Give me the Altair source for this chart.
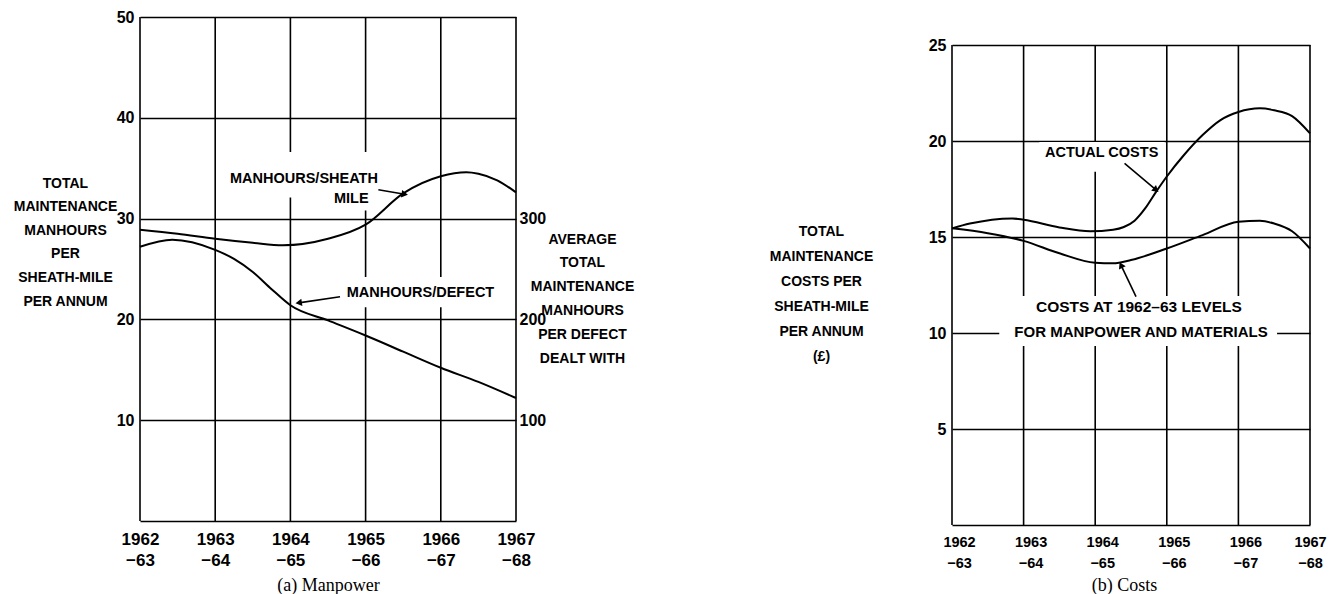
import json
import math
import altair as alt
import pandas as pd

# ---------------- data ----------------
year_idx = [0, 1, 2, 3, 4, 5]
year_top = ["1962", "1963", "1964", "1965", "1966", "1967"]
year_bot = ["−63", "−64", "−65", "−66", "−67", "−68"]

# (a) Manpower
sheath_x = [0, 0.5, 1, 1.5, 1.9, 2.5, 3, 3.5, 4, 4.34, 4.5, 4.75, 5]
sheath_v = [28.9, 28.5, 28.0, 27.6, 27.35, 28.0, 29.4, 32.5, 34.2, 34.6, 34.45, 33.8, 32.6]

defect_x = [0, 0.43, 1, 1.25, 1.5, 1.75, 2, 2.5, 3, 3.5, 4, 4.5, 5]
defect_v = [272, 279, 269, 260, 247, 230, 214, 199, 184, 168, 152, 138, 122]

# (b) Costs
actual_x = [0, 0.25, 0.84, 1, 1.5, 1.93, 2.25, 2.4, 2.55, 2.7, 2.85, 3, 3.24, 3.5, 3.75, 4, 4.3, 4.5, 4.75, 5]
actual_v = [15.45, 15.7, 15.97, 15.9, 15.5, 15.3, 15.38, 15.52, 15.85, 16.5, 17.35, 18.15, 19.27, 20.31, 21.09, 21.51, 21.7, 21.6, 21.3, 20.4]

levels_x = [0, 0.5, 1, 1.5, 2, 2.25, 2.5, 3, 3.5, 4, 4.3, 4.5, 4.75, 5]
levels_v = [15.45, 15.2, 14.8, 14.15, 13.66, 13.63, 13.8, 14.4, 15.1, 15.8, 15.85, 15.7, 15.3, 14.4]

left_title = ["TOTAL", "MAINTENANCE", "MANHOURS", "PER", "SHEATH-MILE", "PER ANNUM"]
right_title_a = ["AVERAGE", "TOTAL", "MAINTENANCE", "MANHOURS", "PER DEFECT", "DEALT WITH"]
left_title_b = ["TOTAL", "MAINTENANCE", "COSTS PER", "SHEATH-MILE", "PER ANNUM", "(£)"]

# annotations (data coordinates)
ann_a_text = ["MANHOURS/SHEATH", "MILE", "MANHOURS/DEFECT"]
ann_a_x = [2.18, 2.81, 3.73]
ann_a_v = [33.96, 31.91, 22.57]
ann_a_size = [14.5, 14.5, 14.5]
arrow_a = [(3.17, 32.87, 3.52, 32.41), (2.66, 22.25, 2.11, 21.64)]
boxes_a = [(1.16, 32.1, 3.19, 36.6), (2.55, 30.8, 3.07, 32.1), (2.66, 21.2, 4.84, 24.2)]

ann_b_text = ["ACTUAL COSTS", "COSTS AT 1962–63 LEVELS", "FOR MANPOWER AND MATERIALS"]
ann_b_x = [2.09, 2.61, 2.64]
ann_b_v = [19.39, 11.34, 10.04]
ann_b_size = [14.5, 15.5, 15]
arrow_b = [(2.41, 18.84, 2.85, 17.45), (2.57, 11.89, 2.36, 13.54)]
boxes_b = [(1.22, 18.4, 2.97, 19.95), (0.66, 9.32, 4.54, 11.93)]

# ---------------- layout / style ----------------
FONT = "Liberation Sans"
SERIF = "Liberation Serif"
W_L, H_L = 376, 504
W_R, H_R = 358, 508
R_TRUE_H = 480
R_TOP = 25
R_DOM = R_TOP * H_R / R_TRUE_H
GRID_W = 1.6
LINE_W = 2.0


def lab_expr():
    return ("[" + json.dumps(year_top, ensure_ascii=False) + "[datum.value], "
            + json.dumps(year_bot, ensure_ascii=False) + "[datum.value]]")


def arrows_df(arrs, W, H, dom):
    rows = []
    for (x1, v1, x2, v2) in arrs:
        dx = (x2 - x1) * W / 5.0
        dy = -(v2 - v1) * H / dom
        ang = math.degrees(math.atan2(dy, dx)) % 360
        rows.append({"x": x1, "v": v1, "x2": x2, "v2": v2, "ang": ang})
    return pd.DataFrame(rows)


def boxes_df(bxs):
    return pd.DataFrame([{"x": a, "v": b, "x2": c, "v2": d} for (a, b, c, d) in bxs])


def panel(W, H, dom, top, yvals, ytitle, tX, tY, tLH, xlabsize, xlabpad, xlablh, xoff,
          cap, capX, capY, curves, ann_df, arr, bxs, extra=None):
    xax = alt.Axis(values=year_idx, grid=False, domain=False, ticks=False,
                   labelExpr=lab_expr(), labelFontSize=xlabsize, labelFontWeight="bold",
                   labelPadding=xlabpad, labelLineHeight=xlablh,
                   labelOffset={"condition": {"test": "datum.value == 5", "value": 0}, "value": xoff},
                   labelFlush=False, labelOverlap=False,
                   labelFont=FONT, labelColor="black",
                   title=cap, titleFont=SERIF, titleFontWeight="normal", titleFontSize=18,
                   titleBaseline="middle", titleX=capX, titleY=capY, titleColor="black")
    yax = alt.Axis(values=yvals, grid=True, gridColor="black", gridWidth=GRID_W, gridOpacity=1,
                   domain=False, ticks=False, labelFlush=False,
                   labelExpr="datum.value == 0 ? '' : datum.label",
                   labelFontSize=16, labelFontWeight="bold", labelPadding=6, labelFont=FONT,
                   labelColor="black",
                   title=ytitle, titleAngle=0, titleAlign="center", titleBaseline="top",
                   titleX=tX, titleY=tY, titleLineHeight=tLH, titleFontSize=14,
                   titleFontWeight="bold", titleFont=FONT, titleColor="black")
    xscale = alt.Scale(domain=[0, 5], nice=False, zero=False)
    yscale = alt.Scale(domain=[0, dom], nice=False, zero=False)
    X = alt.X("x:Q", scale=xscale, axis=xax)
    Y = alt.Y("v:Q", scale=yscale, axis=yax)

    vr = pd.DataFrame({"x": year_idx, "v": [0] * 6, "v2": [top] * 6})
    vrules = alt.Chart(vr).mark_rule(color="black", strokeWidth=GRID_W).encode(x=X, y=Y, y2="v2:Q")
    boxes = alt.Chart(boxes_df(bxs)).mark_rect(color="white").encode(x=X, x2="x2:Q", y=Y, y2="v2:Q")
    layers = [vrules, boxes]
    for (cx, cv) in curves:
        df = pd.DataFrame({"x": cx, "v": cv})
        layers.append(alt.Chart(df).mark_line(color="black", strokeWidth=LINE_W,
                                              interpolate="monotone").encode(x=X, y=Y))
    adf = arrows_df(arr, W, H, dom)
    layers.append(alt.Chart(adf).mark_rule(color="black", strokeWidth=1.6)
                  .encode(x=X, y=Y, x2="x2:Q", y2="v2:Q"))
    layers.append(alt.Chart(adf).mark_point(shape="triangle-right", filled=True, size=55,
                                            color="black", opacity=1)
                  .encode(x=alt.X("x2:Q", scale=xscale, axis=xax),
                          y=alt.Y("v2:Q", scale=yscale, axis=yax),
                          angle=alt.Angle("ang:Q", scale=None)))
    for _, row in ann_df.iterrows():
        d = pd.DataFrame([{"x": row["x"], "v": row["v"], "label": row["label"]}])
        layers.append(alt.Chart(d).mark_text(font=FONT, fontWeight="bold", fontSize=row["size"],
                                             color="black", align="center", baseline="middle")
                      .encode(x=X, y=Y, text="label:N"))
    inner = alt.layer(*layers).properties(width=W, height=H)
    if extra is not None:
        ex = extra(alt.X("x:Q", scale=xscale, axis=xax))
        return alt.layer(inner, ex).resolve_scale(y="independent").properties(width=W, height=H)
    return inner


# ---- left panel (a) ----
ann_a = pd.DataFrame({"x": ann_a_x, "v": ann_a_v, "label": ann_a_text, "size": ann_a_size})
defect_df = pd.DataFrame({"x": defect_x, "v": defect_v})


def defect_layer(X):
    return alt.Chart(defect_df).mark_line(color="black", strokeWidth=LINE_W,
                                          interpolate="monotone").encode(
        x=X,
        y=alt.Y("v:Q", scale=alt.Scale(domain=[0, 500], nice=False, zero=False),
                axis=alt.Axis(orient="right", values=[100, 200, 300], grid=False, domain=False,
                              ticks=False, labelFlush=False, labelFontSize=16,
                              labelFontWeight="bold", labelPadding=3,
                              labelFont=FONT, labelColor="black",
                              title=right_title_a, titleAngle=0, titleAlign="center",
                              titleBaseline="top", titleX=66, titleY=215, titleLineHeight=23.8,
                              titleFontSize=14, titleFontWeight="bold", titleFont=FONT,
                              titleColor="black")),
    )


left = panel(W_L, H_L, 50, 50, [0, 10, 20, 30, 40, 50], left_title, -75, 159, 23.6,
             17, 10, 21.5, 0, "(a) Manpower", W_L / 2, 64,
             [(sheath_x, sheath_v)], ann_a, arrow_a, boxes_a, extra=defect_layer)

# ---- right panel (b) ----
ann_b = pd.DataFrame({"x": ann_b_x, "v": ann_b_v, "label": ann_b_text, "size": ann_b_size})
right = panel(W_R, H_R, R_DOM, R_TOP, [0, 5, 10, 15, 20, 25], left_title_b, -131, 207, 25,
              14.5, 10, 21.6, 7, "(b) Costs", 172, 60,
              [(actual_x, actual_v), (levels_x, levels_v)],
              ann_b, arrow_b, boxes_b)

chart = (alt.hconcat(left, right, spacing=436, bounds="flush")
         .properties(padding={"left": 5, "top": 1, "right": 0, "bottom": 0}, background="white")
         .configure_view(stroke=None))

chart.save("out.html", embed_options={"renderer": "svg", "actions": False})
